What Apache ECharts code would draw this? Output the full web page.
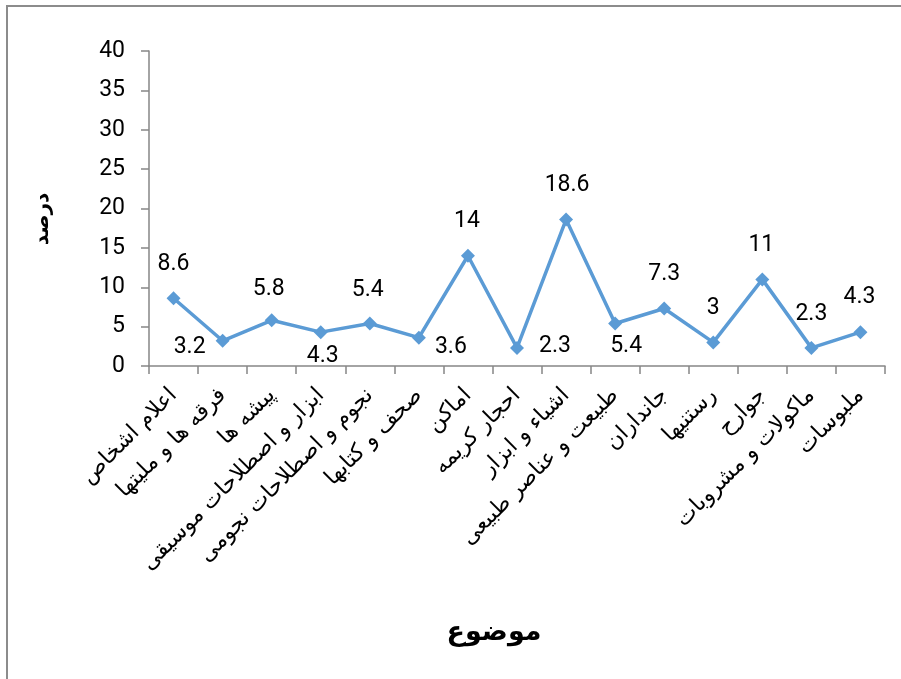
<!DOCTYPE html>
<html>
<head>
<meta charset="utf-8">
<script src="https://cdn.jsdelivr.net/npm/echarts@6/dist/echarts.min.js"></script>
<style>html,body{margin:0;padding:0;background:#fff;}#c{width:901px;height:679px;}</style>
</head>
<body>
<div id="c"></div>
<script>
const categories = ["اعلام اشخاص","فرقه ها و ملیتها","پیشه ها","ابزار و اصطلاحات موسیقی","نجوم و اصطلاحات نجومی","صحف و کتابها","اماکن","احجار کریمه","اشیاء و ابزار","طبیعت و عناصر طبیعی","جانداران","رستنیها","جوارح","ماکولات و مشروبات","ملبوسات"];
const values = [8.6, 3.2, 5.8, 4.3, 5.4, 3.6, 14, 2.3, 18.6, 5.4, 7.3, 3, 11, 2.3, 4.3];
const yTicks = {min: 0, max: 40, interval: 5};
const yName = "درصد";
const xName = "موضوع";

// label placement (styling only): offset of label centre from the marker
const labelOffsets = [[0,-34],[-33,6],[-3,-31],[2,24],[-2,-33],[32,10],[-1,-35],[38,-2],[1,-34],[11,23],[0,-34],[0,-34],[-1,-34],[0,-34],[-1,-35]];

const chart = echarts.init(document.getElementById('c'));
const axisColor = '#868686';
chart.setOption({
  backgroundColor: '#fff',
  animation: false,
  graphic: [{
    type: 'rect', shape: {x: 7, y: 6, width: 920, height: 700},
    style: {fill: 'none', stroke: '#8c8c8c', lineWidth: 2}, silent: true, z: -1
  }, {
    type: 'text', x: 494, y: 633,
    style: {text: xName, fontFamily: 'DejaVu Sans', fontSize: 27, fontWeight: 'bold', fill: '#000', align: 'center', verticalAlign: 'middle'}
  }, {
    type: 'text', x: 43, y: 219, rotation: Math.PI / 2,
    style: {text: yName, fontFamily: 'DejaVu Sans', fontSize: 20, fontWeight: 'bold', fill: '#000', align: 'center', verticalAlign: 'middle'}
  }],
  grid: {left: 149, right: 16, top: 51, bottom: 313},
  xAxis: {
    type: 'category', data: categories, boundaryGap: true,
    axisLine: {lineStyle: {color: axisColor, width: 1.5}},
    axisTick: {show: true, length: 8, lineStyle: {color: axisColor, width: 1.5}, interval: 0},
    axisLabel: {interval: 0, rotate: 45, margin: 26, fontFamily: 'DejaVu Sans', fontSize: 22, color: '#000'}
  },
  yAxis: {
    type: 'value', min: yTicks.min, max: yTicks.max, interval: yTicks.interval,
    axisLine: {show: true, lineStyle: {color: axisColor, width: 1.5}},
    axisTick: {show: true, inside: false, length: 8, lineStyle: {color: axisColor, width: 1.5}},
    splitLine: {show: false},
    axisLabel: {margin: 24, fontFamily: 'Roboto', fontSize: 23, color: '#000'}
  },
  series: [{
    type: 'line',
    data: values.map((v, i) => ({
      value: v,
      label: {position: 'inside', offset: labelOffsets[i]}
    })),
    symbol: 'diamond', symbolSize: 14,
    lineStyle: {color: '#5b9bd5', width: 3.5},
    itemStyle: {color: '#5b9bd5'},
    label: {show: true, fontFamily: 'Roboto', fontSize: 23, color: '#000'}
  }]
});
</script>
</body>
</html>
